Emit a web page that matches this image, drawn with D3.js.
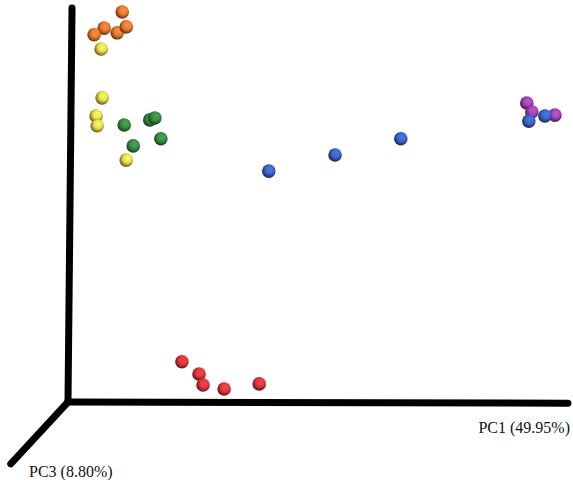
<!DOCTYPE html>
<html lang="en">
<head>
<meta charset="UTF-8">
<title>PCoA plot</title>
<script src="https://d3js.org/d3.v7.min.js"></script>
<style>
  body { margin: 0; background: #fff; }
  .axis-line { fill: none; stroke: #000; stroke-width: 7px; stroke-linecap: round; }
  .axis-label { font-family: "Liberation Serif", "Times New Roman", serif; font-size: 16px; fill: #111; }
</style>
</head>
<body>
<svg width="573" height="480"></svg>
<script>
// sample groups and their projected coordinates (PC1 horizontal, PC2 vertical)
const groups = ["orange", "yellow", "green", "blue", "purple", "red"];
const groupColors = ["#f07a2e", "#e9e24c", "#3b8f43", "#3c66cc", "#a545b8", "#e8363c"];

const pc1 = {
  orange: [10.8, 7.2, 5.2, 9.8, 11.6],
  yellow: [6.6, 6.8, 5.6, 5.8, 11.6],
  green:  [11.2, 16.3, 17.3, 18.5, 13.0],
  purple: [91.4, 92.4, 97.0],
  blue:   [40.0, 53.2, 66.3, 91.8, 95.0],
  red:    [22.7, 26.1, 26.9, 31.1, 38.1]
};
const pc2 = {
  orange: [99.0, 94.9, 93.2, 93.7, 95.2],
  yellow: [89.6, 77.2, 72.6, 70.1, 61.4],
  green:  [70.3, 71.6, 72.1, 66.8, 65.0],
  purple: [75.9, 73.6, 72.8],
  blue:   [58.6, 62.7, 66.8, 71.3, 72.6],
  red:    [10.2, 7.1, 4.3, 3.3, 4.6]
};
const drawOrder = ["orange", "yellow", "green", "purple", "blue", "red"];

// axis ends in the same units (origin, PC1, PC2, PC3 direction)
const axisEnds = [[99.6, -0.3], [0.8, 100], [-11.4, -15.7]];
const axisLabels = ["PC1 (49.95%)", "PC3 (8.80%)"];

const svg = d3.select("svg");
const x = d3.scaleLinear().domain([0, 100]).range([68, 570]);
const y = d3.scaleLinear().domain([0, 100]).range([402, 8]);

// sphere-like gradients
const defs = svg.append("defs");
groups.forEach((g, i) => {
  const c = d3.color(groupColors[i]);
  const grad = defs.append("radialGradient")
    .attr("id", "grad-" + g)
    .attr("cx", "55%").attr("cy", "42%").attr("r", "60%")
    .attr("fx", "62%").attr("fy", "35%");
  grad.append("stop").attr("offset", "0%").attr("stop-color", c.brighter(0.5));
  grad.append("stop").attr("offset", "50%").attr("stop-color", c);
  grad.append("stop").attr("offset", "80%").attr("stop-color", c.darker(1.3));
  grad.append("stop").attr("offset", "100%").attr("stop-color", c.darker(3));
});

// axes
const line = d3.line().x(d => x(d[0])).y(d => y(d[1]));
axisEnds.forEach(e => {
  svg.append("path")
    .attr("class", "axis-line")
    .attr("d", line([[0, 0], e]));
});

svg.append("text")
  .attr("class", "axis-label")
  .attr("x", 570)
  .attr("y", 433)
  .attr("text-anchor", "end")
  .text(axisLabels[0]);

svg.append("text")
  .attr("class", "axis-label")
  .attr("x", 29)
  .attr("y", 477)
  .text(axisLabels[1]);

// points
drawOrder.forEach(g => {
  const pts = pc1[g].map((v, i) => [v, pc2[g][i]]);
  svg.append("g").selectAll("circle")
    .data(pts)
    .join("circle")
    .attr("cx", d => x(d[0]))
    .attr("cy", d => y(d[1]))
    .attr("r", 6.8)
    .attr("fill", "url(#grad-" + g + ")");
});
</script>
</body>
</html>
